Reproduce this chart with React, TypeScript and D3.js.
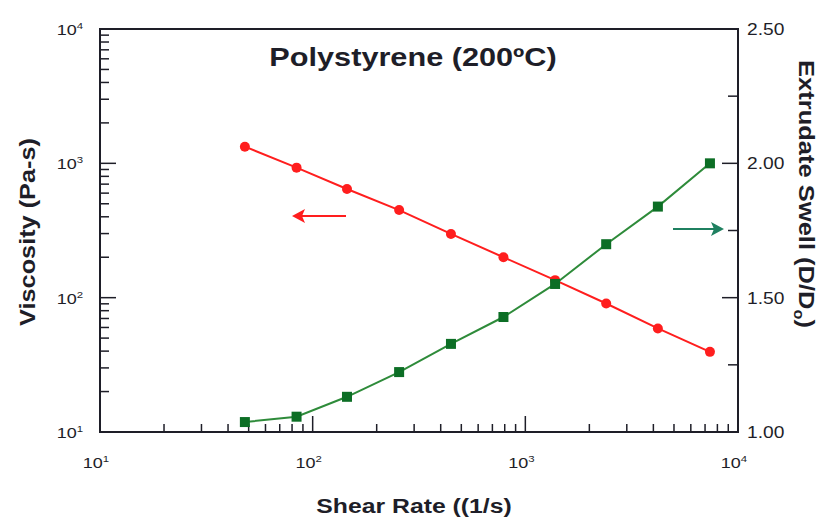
import React from "react";
import * as d3 from "d3";

const shearRate = [48, 84, 145, 255, 447, 789, 1380, 2400, 4200, 7380];
const viscosity = [1330, 929, 644, 449, 298, 200, 135, 90.5, 59, 39.5];
const swell = [1.037, 1.057, 1.131, 1.223, 1.328, 1.428, 1.551, 1.699, 1.839, 2.0];
const xDecades = [1, 2, 3, 4];
const yDecades = [1, 2, 3, 4];
const rightTicks = [1.0, 1.5, 2.0, 2.5];
const rightMinor = [1.25, 1.75, 2.25];

const W = 818, H = 519;
const L = 100, R = 738, T = 29, B = 432;
const RED = "#ff1e1e";
const GREEN_LINE = "#2e8b3a";
const GREEN_MARK = "#0c6e25";
const ARROW_GREEN = "#1f8060";
const TXT = "#1e1e28";
const FONT = "Liberation Sans, Arial, sans-serif";
const SX = 1.2;

export default function App() {
  const x = d3.scaleLog().domain([10, 10000]).range([L, R]);
  const yL = d3.scaleLog().domain([10, 10000]).range([B, T]);
  const yR = d3.scaleLinear().domain([1, 2.5]).range([B, T]);

  const redLine = d3.line<number>().x((_, i) => x(shearRate[i])).y((v) => yL(v));
  const greenLine = d3.line<number>().x((_, i) => x(shearRate[i])).y((v) => yR(v));

  const minors: number[] = [];
  for (let e = 1; e < 4; e++) for (let m = 2; m <= 9; m++) minors.push(m * Math.pow(10, e));

  const sup = (e: number, px: number, py: number, anchor: string) => (
    <text transform={`translate(${px},${py}) scale(${SX},1)`} fontFamily={FONT} fontSize={15} fill={TXT} textAnchor={anchor}>
      10<tspan fontSize={9.5} dy={-6}>{e}</tspan>
    </text>
  );

  return (
    <svg width={W} height={H} style={{ position: "absolute", left: 0, top: 0, background: "#fff" }}>
      {/* bottom axis ticks */}
      {minors.map((v, i) => (
        <line key={"xm" + i} x1={x(v)} x2={x(v)} y1={B} y2={B - 8} stroke={TXT} strokeWidth={1.5} />
      ))}
      {xDecades.slice(1, 3).map((e) => (
        <line key={"xM" + e} x1={x(Math.pow(10, e))} x2={x(Math.pow(10, e))} y1={B} y2={B - 16} stroke={TXT} strokeWidth={1.5} />
      ))}
      {/* left axis ticks */}
      {minors.map((v, i) => (
        <line key={"ym" + i} x1={L} x2={L + 9} y1={yL(v)} y2={yL(v)} stroke={TXT} strokeWidth={1.5} />
      ))}
      {yDecades.slice(1, 3).map((e) => (
        <line key={"yM" + e} x1={L} x2={L + 16} y1={yL(Math.pow(10, e))} y2={yL(Math.pow(10, e))} stroke={TXT} strokeWidth={1.5} />
      ))}
      {/* right axis ticks */}
      {rightMinor.map((v) => (
        <line key={"rm" + v} x1={R} x2={R - 10} y1={yR(v)} y2={yR(v)} stroke={TXT} strokeWidth={1.5} />
      ))}
      {rightTicks.slice(1, 3).map((v) => (
        <line key={"rM" + v} x1={R} x2={R - 16} y1={yR(v)} y2={yR(v)} stroke={TXT} strokeWidth={1.5} />
      ))}
      {/* frame */}
      <rect x={L} y={T} width={R - L} height={B - T} fill="none" stroke={TXT} strokeWidth={2} />

      {/* tick labels */}
      {xDecades.map((e) => (
        <g key={"xl" + e}>{sup(e, x(Math.pow(10, e)) - 4, B + 36, "middle")}</g>
      ))}
      {yDecades.map((e) => (
        <g key={"yl" + e}>{sup(e, L - 17, yL(Math.pow(10, e)) + 6, "end")}</g>
      ))}
      {rightTicks.map((v) => (
        <text key={"rl" + v} transform={`translate(${R + 9},${yR(v) + 6}) scale(${SX},1)`} fontFamily={FONT} fontSize={16} fill={TXT}>
          {v.toFixed(2)}
        </text>
      ))}

      {/* series */}
      <path d={redLine(viscosity) || ""} fill="none" stroke={RED} strokeWidth={2} />
      {viscosity.map((v, i) => (
        <circle key={"c" + i} cx={x(shearRate[i])} cy={yL(v)} r={5} fill={RED} />
      ))}
      <path d={greenLine(swell) || ""} fill="none" stroke={GREEN_LINE} strokeWidth={2} />
      {swell.map((v, i) => (
        <rect key={"s" + i} x={x(shearRate[i]) - 5} y={yR(v) - 5} width={10} height={10} fill={GREEN_MARK} />
      ))}

      {/* arrows */}
      <line x1={346} x2={300} y1={216} y2={216} stroke={RED} strokeWidth={2} />
      <path d="M292,216 L305,209 L302,216 L305,223 Z" fill={RED} />
      <line x1={673} x2={714} y1={229} y2={229} stroke={ARROW_GREEN} strokeWidth={2} />
      <path d="M724,229 L711,222 L714,229 L711,236 Z" fill={ARROW_GREEN} />

      {/* title */}
      <text transform={`translate(413,66) scale(1.18,1)`} textAnchor="middle" fontFamily={FONT} fontWeight="bold" fontSize={26} fill={TXT}>
        Polystyrene (200ºC)
      </text>

      {/* axis titles */}
      <text transform={`translate(414,513) scale(1.18,1)`} textAnchor="middle" fontFamily={FONT} fontWeight="bold" fontSize={21} fill={TXT}>
        Shear Rate ((1/s)
      </text>
      <text transform={`translate(35,232) rotate(-90) scale(1.15,1)`} textAnchor="middle" fontFamily={FONT} fontWeight="bold" fontSize={22} fill={TXT}>
        Viscosity (Pa-s)
      </text>
      <text transform={`translate(799,194) rotate(90) scale(1.16,1)`} textAnchor="middle" fontFamily={FONT} fontWeight="bold" fontSize={22} fill={TXT}>
        Extrudate Swell (D/D<tspan fontSize={14} dy={5}>o</tspan><tspan dy={-5}>)</tspan>
      </text>
    </svg>
  );
}
